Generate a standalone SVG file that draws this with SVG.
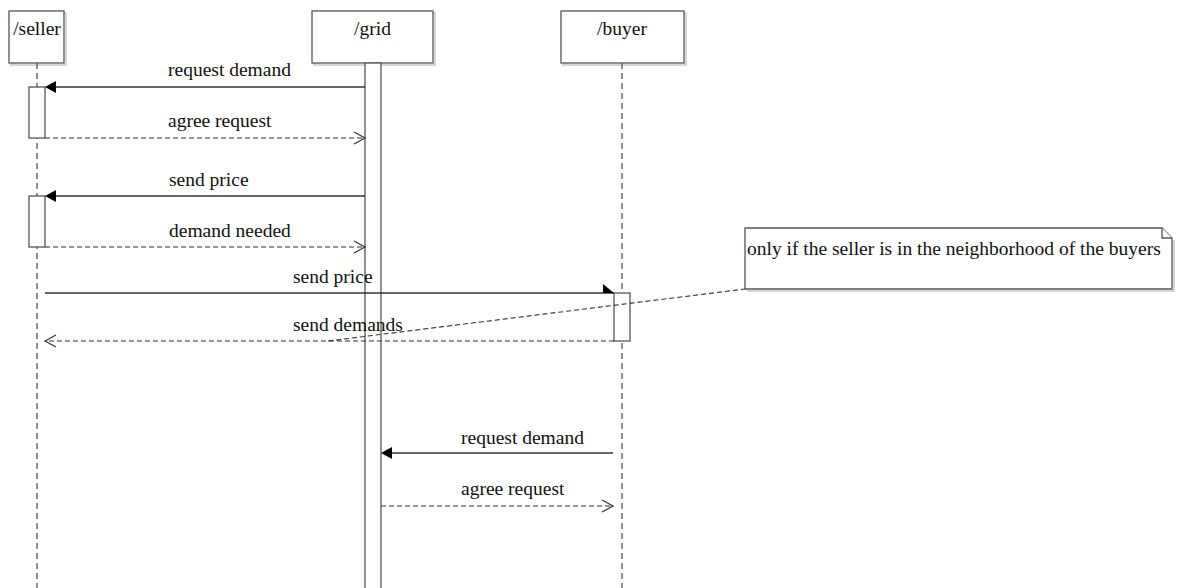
<svg xmlns="http://www.w3.org/2000/svg" width="1180" height="588" viewBox="0 0 1180 588">
<style>
text{font-family:"Liberation Serif","Times New Roman",serif;font-size:19.5px;fill:#111}
.box{fill:#fff;stroke:#555;stroke-width:1.3}
.shadow{fill:none;stroke:#c8c8c8;stroke-width:1.5}
.life{stroke:#555;stroke-width:1.3;stroke-dasharray:6,4;fill:none}
.act{fill:#fff;stroke:#555;stroke-width:1.3}
.msg{stroke:#333;stroke-width:1.3;fill:none}
.ret{stroke:#333;stroke-width:1.2;fill:none;stroke-dasharray:5,3}
.open{stroke:#333;stroke-width:1.2;fill:none}
.head{fill:#000}
.notel{stroke:#333;stroke-width:1.1;fill:none;stroke-dasharray:5,3}
</style>
<g id="seller">
<rect class="shadow" x="11" y="13" width="55" height="52"/>
<rect class="box" x="9" y="11" width="55" height="52"/>
<text x="37" y="35" text-anchor="middle">/seller</text>
<line class="life" x1="37" y1="63" x2="37" y2="588"/>
<rect class="act" x="29" y="87" width="16" height="51"/>
<rect class="act" x="29" y="196" width="16" height="51"/>
</g>
<g id="grid">
<rect class="shadow" x="314" y="13" width="121" height="52"/>
<rect class="box" x="312" y="11" width="121" height="52"/>
<text x="372.5" y="35" text-anchor="middle">/grid</text>
<rect class="act" x="365" y="63" width="16" height="530"/>
</g>
<g id="buyer">
<rect class="shadow" x="563" y="13" width="123" height="52"/>
<rect class="box" x="561" y="11" width="123" height="52"/>
<text x="622" y="35" text-anchor="middle">/buyer</text>
<line class="life" x1="622" y1="63" x2="622" y2="588"/>
<rect class="act" x="614" y="293" width="16" height="48"/>
</g>
<g id="note">
<path class="shadow" d="M747,291 H1174 V240"/>
<path class="box" d="M745,228 H1162 L1172,238 V289 H745 Z"/>
<path class="box" d="M1162,228 V238 H1172" fill="none"/>
<text x="747" y="255">only if the seller is in the neighborhood of the buyers</text>
</g>
<g id="connectors">
<line class="msg" x1="365" y1="87" x2="50" y2="87"/>
<polygon class="head" points="45,87 56,81 56,93"/>
<text x="168" y="76">request demand</text>
<line class="ret" x1="45" y1="138" x2="364" y2="138"/>
<polyline class="open" points="354,132 365,138 354,144"/>
<text x="168" y="127">agree request</text>
<line class="msg" x1="365" y1="196" x2="50" y2="196"/>
<polygon class="head" points="45,196 56,190 56,202"/>
<text x="169" y="186">send price</text>
<line class="ret" x1="45" y1="247" x2="364" y2="247"/>
<polyline class="open" points="354,241 365,247 354,253"/>
<text x="169" y="237">demand needed</text>
<line class="msg" x1="45" y1="293" x2="614" y2="293"/>
<polygon class="head" points="603,284 614,293 603,293"/>
<text x="293" y="283">send price</text>
<line class="ret" x1="614" y1="341" x2="46" y2="341"/>
<polyline class="open" points="56,335 45,341 56,347"/>
<text x="293" y="331">send demands</text>
<line class="notel" x1="328" y1="341" x2="745" y2="289"/>
<line class="msg" x1="613" y1="453" x2="386" y2="453"/>
<polygon class="head" points="381,453 392,447 392,459"/>
<text x="461" y="444">request demand</text>
<line class="ret" x1="381" y1="506" x2="612" y2="506"/>
<polyline class="open" points="602,500 613,506 602,512"/>
<text x="461" y="495">agree request</text>
</g>
</svg>
